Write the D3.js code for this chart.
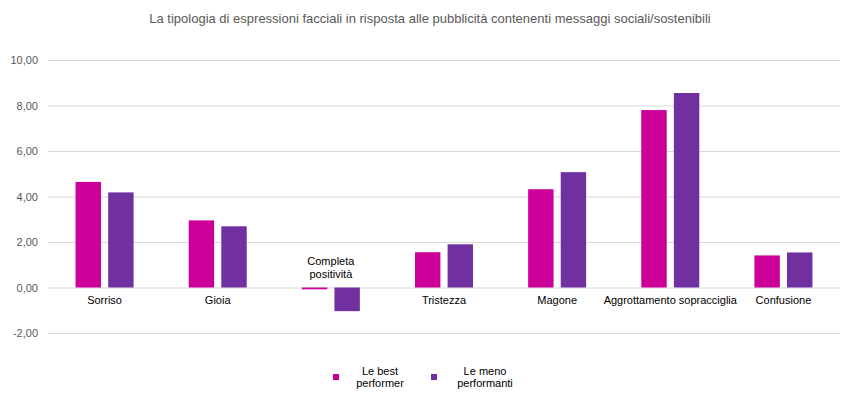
<!DOCTYPE html>
<html>
<head>
<meta charset="utf-8">
<script src="https://cdn.jsdelivr.net/npm/d3@7"></script>
<style>
  body { margin: 0; background: #fff; }
  svg { display: block; font-family: 'Liberation Sans', Arial, sans-serif; }
</style>
</head>
<body>
<div id="chart"></div>
<script>
const categories = ['Sorriso', 'Gioia', 'Completa positività', 'Tristezza', 'Magone', 'Aggrottamento sopracciglia', 'Confusione'];
const seriesNames = ['Le best performer', 'Le meno performanti'];
const bestValues = [4.64, 2.95, -0.08, 1.55, 4.32, 7.80, 1.41];
const menoValues = [4.18, 2.69, -1.04, 1.90, 5.07, 8.55, 1.54];
const yTicks = [-2, 0, 2, 4, 6, 8, 10];
const colors = ['#cc0099', '#7030a0'];

const width = 861;
const height = 398;
const margin = { top: 60, right: 21, bottom: 65, left: 48 };

const svg = d3.select('#chart')
  .append('svg')
  .attr('width', width)
  .attr('height', height);

const x = d3.scaleBand()
  .domain(categories)
  .range([margin.left, width - margin.right]);

const x1 = d3.scaleBand()
  .domain(seriesNames)
  .range([0, 58])
  .paddingInner(0.22);

const y = d3.scaleLinear()
  .domain([-2, 10])
  .range([height - margin.bottom, margin.top]);

// title
svg.append('text')
  .attr('x', 430)
  .attr('y', 23)
  .attr('text-anchor', 'middle')
  .attr('fill', '#595959')
  .style('font-size', '13px')
  .text('La tipologia di espressioni facciali in risposta alle pubblicità contenenti messaggi sociali/sostenibili');

// gridlines + tick labels
const yAxis = svg.append('g')
  .attr('transform', `translate(${margin.left},0)`)
  .call(d3.axisLeft(y)
    .tickValues(yTicks)
    .tickSize(-(width - margin.left - margin.right))
    .tickPadding(10)
    .tickFormat(d => d3.format('.2f')(d).replace('.', ',').replace('−', '-')));
yAxis.select('.domain').remove();
yAxis.selectAll('.tick line').attr('stroke', '#d9d9d9');
yAxis.selectAll('.tick text')
  .attr('fill', '#595959')
  .style('font-size', '11px')
  .style('font-family', "'Liberation Sans', Arial, sans-serif");

// bars
const rows = categories.map((c, i) => ({ cat: c, vals: [bestValues[i], menoValues[i]] }));
const groups = svg.append('g')
  .selectAll('g')
  .data(rows)
  .join('g')
  .attr('transform', d => `translate(${x(d.cat) + x.bandwidth() / 2 - 29},0)`);

groups.selectAll('rect')
  .data(d => d.vals.map((v, j) => ({ name: seriesNames[j], v, j })))
  .join('rect')
  .attr('x', d => x1(d.name))
  .attr('width', x1.bandwidth())
  .attr('y', d => y(Math.max(0, d.v)))
  .attr('height', d => Math.abs(y(d.v) - y(0)))
  .attr('fill', d => colors[d.j]);

// category labels
const labels = svg.append('g')
  .selectAll('text')
  .data(categories)
  .join('text')
  .attr('text-anchor', 'middle')
  .attr('fill', '#000')
  .style('font-size', '11px')
  .attr('x', d => x(d) + x.bandwidth() / 2);

labels.each(function (d, i) {
  const t = d3.select(this);
  if (bestValues[i] < 0 || menoValues[i] < 0) {
    const words = d.split(' ');
    t.attr('y', y(0) - 23);
    words.forEach((w, k) => {
      t.append('tspan')
        .attr('x', x(d) + x.bandwidth() / 2)
        .attr('dy', k === 0 ? 0 : 13)
        .text(w);
    });
  } else {
    t.attr('y', y(0) + 16).text(d);
  }
});

// legend
const legendItems = [
  { name: seriesNames[0], lines: ['Le best', 'performer'], sx: 333, tx: 380 },
  { name: seriesNames[1], lines: ['Le meno', 'performanti'], sx: 431, tx: 485 },
];
const legend = svg.append('g')
  .selectAll('g')
  .data(legendItems)
  .join('g');
legend.append('rect')
  .attr('x', d => d.sx)
  .attr('y', 374)
  .attr('width', 6)
  .attr('height', 6)
  .attr('fill', (d, i) => colors[i]);
legend.append('text')
  .attr('text-anchor', 'middle')
  .style('font-size', '11px')
  .attr('fill', '#000')
  .attr('y', 375)
  .selectAll('tspan')
  .data(d => d.lines.map(l => ({ l, tx: d.tx })))
  .join('tspan')
  .attr('x', d => d.tx)
  .attr('dy', (d, k) => k === 0 ? 0 : 12)
  .text(d => d.l);
</script>
</body>
</html>
